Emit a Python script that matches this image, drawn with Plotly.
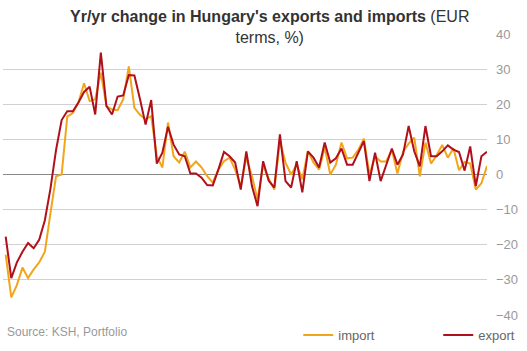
import plotly.graph_objects as go
import pandas as pd

months = pd.date_range("2009-01-01", periods=87, freq="MS").strftime("%Y-%m").tolist()

export_vals = [-17.7, -29.5, -25, -22, -19.5, -21, -18.5, -13, -4, 7,
               15.5, 18, 18, 20.5, 23.5, 25, 17.1, 34.7, 19.5, 17.1,
               22.2, 22.5, 28.3, 28.2, 21.4, 14.2, 21.2, 3.1, 6.2, 13.6,
               8.5, 5.7, 5.2, 0.3, 0.3, -0.9, -3, -3.1, 1.4, 6.4,
               5.2, 3.4, -4.3, 6.6, -3.3, -9, 3.8, -1.8, -3.7, 11.4,
               -1.9, -3.7, 3.8, -5.1, 6.6, 4.8, 2, 9.1, 3.4, 4.6,
               7.4, 2.8, 2.8, 6, 9.5, -1.9, 6.2, -1.9, 2.8, 7.4,
               2.8, 5.7, 13.8, 6.6, 2.3, 13.8, 5.2, 5.2, 6.6, 8.3,
               7.1, 6.4, 1.1, 8, -3.3, 5.2, 6.5]

import_vals = [-22.8, -35, -31.5, -26.5, -29.5, -27, -25, -22, -11, -0.5,
               0, 16.5, 17.5, 20.5, 26, 20.9, 21.4, 29, 19.5, 18.5,
               18.3, 21.4, 30.8, 19, 17, 15.7, 16.6, 5.2, 2, 14.8,
               5.2, 3.4, 6.5, 2, 3.7, 2, -0.5, -2.3, 1.4, 3.8,
               4.8, 1.4, -3.3, 4.8, -0.5, -7.1, 2.6, -1.2, -4.3, 9.5,
               3.4, 0, 2.8, -1.4, 6.6, 3.4, 1.4, 7.7, 0, 2.8,
               9.1, 4.6, 4.8, 7, 10.2, 0, 5.2, 3.7, 3.7, 7,
               0.3, 6.5, 8.8, 10.5, -0.5, 9.1, 3.1, 5.5, 8.4, 4.8,
               7.5, 1.2, 3.6, 3.1, -4.3, -2.5, 2.4]

y_ticks = [-40, -30, -20, -10, 0, 10, 20, 30, 40]

FONT = "Liberation Sans, Arial, sans-serif"

fig = go.Figure()
fig.add_trace(go.Scatter(x=months, y=import_vals, name="import", mode="lines",
                         line=dict(color="#F2A51A", width=2)))
fig.add_trace(go.Scatter(x=months, y=export_vals, name="export", mode="lines",
                         line=dict(color="#B0101A", width=2)))

fig.update_layout(
    width=527, height=351,
    margin=dict(l=3, r=40, t=34, b=36, autoexpand=False),
    paper_bgcolor="white", plot_bgcolor="white",
    font=dict(family=FONT, color="#666666", size=12),
    xaxis=dict(type="category", range=[-0.48, 86.0], showticklabels=False,
               showgrid=False, zeroline=False, showline=False, ticks=""),
    yaxis=dict(side="right", range=[-40, 40], tickvals=y_ticks,
               showgrid=True, gridcolor="#D0D0D0", gridwidth=1,
               zeroline=True, zerolinecolor="#888888", zerolinewidth=1,
               showline=False, ticks="", ticklabelstandoff=8,
               tickfont=dict(family=FONT, size=13, color="#999999")),
    showlegend=True,
    legend=dict(orientation="h", x=0.61, xanchor="left", y=-0.018, yanchor="top",
                entrywidth=95, entrywidthmode="pixels",
                font=dict(family=FONT, size=13, color="#666666"),
                bgcolor="rgba(0,0,0,0)"),
    annotations=[
        dict(text="<b>Yr/yr change in Hungary's exports and imports</b> (EUR<br>terms, %)",
             xref="paper", yref="paper", x=(269 - 3) / 484, y=1.0, yshift=28,
             xanchor="center", yanchor="top", align="center", showarrow=False,
             font=dict(family=FONT, size=16, color="#333333")),
        dict(text="Source: KSH, Portfolio", xref="paper", yref="paper",
             x=0.0, y=-0.06, xanchor="left", yanchor="middle", xshift=2,
             showarrow=False,
             font=dict(family=FONT, size=12, color="#999999")),
    ],
)

fig.write_html("out.html")
